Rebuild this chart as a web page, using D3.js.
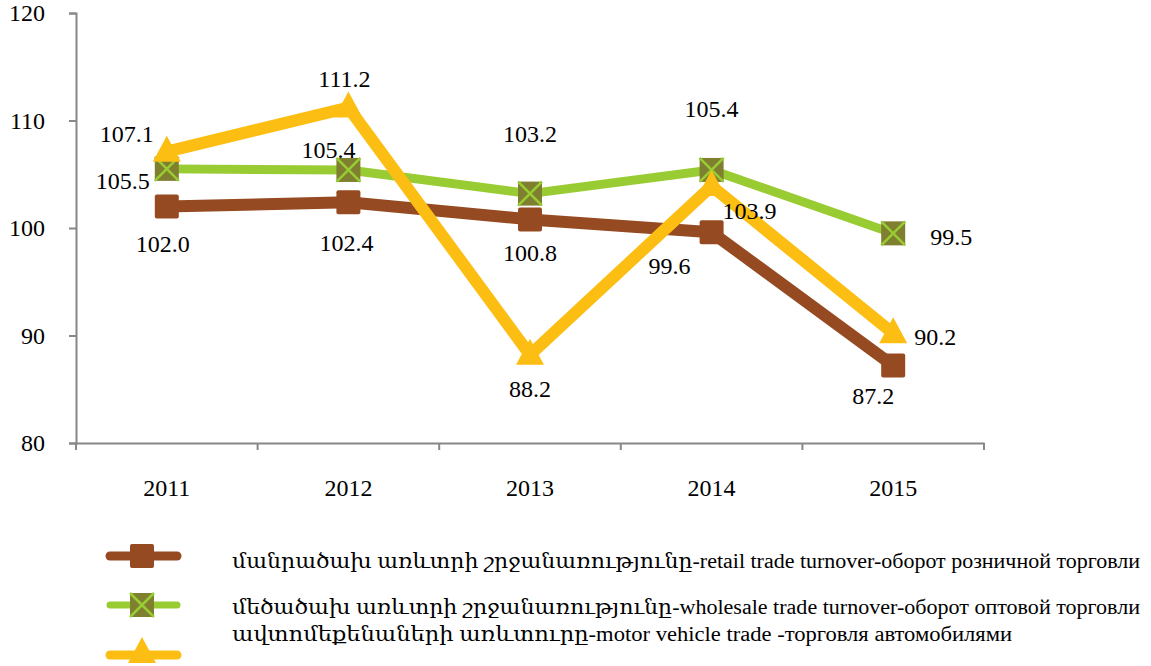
<!DOCTYPE html>
<html>
<head>
<meta charset="utf-8">
<script src="https://cdn.jsdelivr.net/npm/d3@7"></script>
<style>
  body { margin: 0; background: #fff; }
  svg text { font-family: "Liberation Serif", "Times New Roman", "DejaVu Serif", serif !important; fill: #000; }
</style>
</head>
<body>
<div id="chart"></div>
<script>
var years = ["2011", "2012", "2013", "2014", "2015"];
var retail = [102.0, 102.4, 100.8, 99.6, 87.2];
var wholesale = [105.5, 105.4, 103.2, 105.4, 99.5];
var motor = [107.1, 111.2, 88.2, 103.9, 90.2];
var yTicks = [80, 90, 100, 110, 120];
var seriesNames = [
  "մանրածախ առևտրի շրջանառությունը-retail trade turnover-оборот розничной торговли",
  "մեծածախ առևտրի շրջանառությունը-wholesale trade turnover-оборот оптовой торговли",
  "ավտոմեքենաների  առևտուրը-motor vehicle trade -торговля  автомобилями"
];

var width = 1151, height = 666;
var brown = "#954A22", green = "#99CC33", olive = "#7F7F30", yellow = "#FDBE14", axisCol = "#878787";

var svg = d3.select("#chart").append("svg")
    .attr("width", width)
    .attr("height", height);

var x = d3.scaleBand().domain(years).range([76, 984]);
var y = d3.scaleLinear().domain([80, 120]).range([443, 13]);
var cx = function(i){ return x(years[i]) + x.bandwidth() / 2; };

// axes
var yAxis = d3.axisLeft(y).tickValues(yTicks).tickSize(7).tickPadding(24);
var yG = svg.append("g").attr("transform", "translate(76,0)").call(yAxis);
var xAxis = d3.axisBottom(x).tickSize(0).tickPadding(36);
var xG = svg.append("g").attr("transform", "translate(0,443)").call(xAxis);
[yG, xG].forEach(function(g){
  g.attr("font-family", null).attr("font-size", null);
  g.select(".domain").attr("stroke", axisCol).attr("stroke-width", 2);
  g.selectAll("line").attr("stroke", axisCol).attr("stroke-width", 2);
  g.selectAll("text").style("font-size", "24px");
});
// x ticks at band edges
xG.selectAll(".edge").data(years.concat(["end"])).enter().append("line")
  .attr("x1", function(d, i){ return 76 + i * x.step(); })
  .attr("x2", function(d, i){ return 76 + i * x.step(); })
  .attr("y1", 0).attr("y2", 7)
  .attr("stroke", axisCol).attr("stroke-width", 2);

var line = d3.line().x(function(d, i){ return cx(i); }).y(function(d){ return y(d); });

function drawLine(vals, col, w){
  svg.append("path").datum(vals)
    .attr("fill", "none").attr("stroke", col).attr("stroke-width", w)
    .attr("stroke-linejoin", "round").attr("stroke-linecap", "round")
    .attr("d", line);
}

drawLine(retail, brown, 12);
drawLine(wholesale, green, 9);
drawLine(motor, yellow, 12);

function squareMark(g, px, py, fill){
  g.append("rect").attr("x", px - 12).attr("y", py - 12).attr("width", 24).attr("height", 24)
    .attr("rx", 2).attr("fill", fill);
}
function xMark(g, px, py){
  g.append("rect").attr("x", px - 12).attr("y", py - 12).attr("width", 24).attr("height", 24)
    .attr("fill", olive);
  g.append("path").attr("d", "M" + (px - 12) + "," + (py - 12) + "L" + (px + 12) + "," + (py + 12) +
      "M" + (px + 12) + "," + (py - 12) + "L" + (px - 12) + "," + (py + 12))
    .attr("stroke", green).attr("stroke-width", 2.5);
}
function triMark(g, px, py){
  g.append("path").attr("d", "M" + px + "," + (py - 16) + "L" + (px + 14) + "," + (py + 10) + "L" + (px - 14) + "," + (py + 10) + "Z")
    .attr("fill", yellow);
}

var marks = svg.append("g");
retail.forEach(function(v, i){ squareMark(marks, cx(i), y(v), brown); });
wholesale.forEach(function(v, i){ xMark(marks, cx(i), y(v)); });
motor.forEach(function(v, i){ triMark(marks, cx(i), y(v)); });

// data labels: offsets [dx, dy] from the point
var retailOff = [[-4, 45], [-2, 49], [0, 42], [-42, 42], [-20, 38]];
var wholesaleOff = [[-44, 20], [-20, -12], [0, -52], [0, -53], [58, 12]];
var motorOff = [[-40, -10], [-4, -21], [0, 42], [38, 33], [42, 12]];

function labels(vals, off){
  svg.append("g").selectAll("text").data(vals).enter().append("text")
    .attr("x", function(d, i){ return cx(i) + off[i][0]; })
    .attr("y", function(d, i){ return y(d) + off[i][1]; })
    .attr("text-anchor", "middle")
    .style("font-size", "24px")
    .text(function(d){ return d.toFixed(1); });
}
labels(retail, retailOff);
labels(wholesale, wholesaleOff);
labels(motor, motorOff);

// legend
var leg = svg.append("g");
var legY = [556, 605, 655], legTextY = [568, 614, 641];
var legCols = [brown, green, yellow], legW = [9, 7, 9];
legY.forEach(function(ly, i){
  leg.append("line").attr("x1", 110).attr("x2", 177).attr("y1", ly).attr("y2", ly)
    .attr("stroke", legCols[i]).attr("stroke-width", legW[i]).attr("stroke-linecap", "round");
});
squareMark(leg, 142, legY[0], brown);
xMark(leg, 142, legY[1]);
triMark(leg, 142, legY[2] - 2);
var legLen = [908, 908, 780];
leg.selectAll(".lt").data(seriesNames).enter().append("text")
  .attr("x", 232).attr("y", function(d, i){ return legTextY[i]; })
  .attr("textLength", function(d, i){ return legLen[i]; })
  .attr("lengthAdjust", "spacingAndGlyphs")
  .style("font-size", "20px")
  .text(function(d){ return d; });
</script>
</body>
</html>
